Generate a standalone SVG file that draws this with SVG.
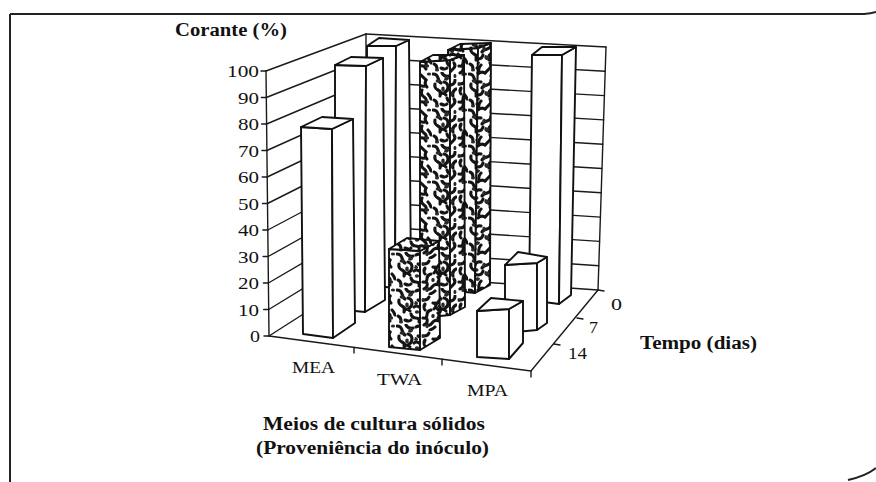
<svg xmlns="http://www.w3.org/2000/svg" width="876" height="482" viewBox="0 0 876 482">
<defs>
<style>
.frame{fill:none;stroke:#222;stroke-width:2}
.grid{fill:none;stroke:#1a1a1a;stroke-width:1.4;stroke-linecap:round}
.bar{fill:#fff;stroke:#111;stroke-width:1.9;stroke-linejoin:round}
.tex{fill:url(#mottle);stroke:#111;stroke-width:1.9;stroke-linejoin:round}
.tex2{fill:url(#mottle2);stroke:#111;stroke-width:1.9;stroke-linejoin:round}
.num{font-family:"Liberation Serif","Times New Roman",serif;font-size:16.5px;fill:#111}
.cat{font-family:"Liberation Serif","Times New Roman",serif;font-size:16.5px;fill:#111}
.ttl{font-family:"Liberation Serif","Times New Roman",serif;font-size:18px;font-weight:bold;fill:#111}
</style>
<g id="blotches">
<rect width="36" height="36" fill="#fff"/>
<g fill="none" stroke="#141414" stroke-width="3.1" stroke-linecap="round" stroke-linejoin="round">
<path d="M1 2 q4 0 5 4 t3 5"/>
<path d="M10 1 q2 4 7 3"/>
<path d="M20 3 q3 -2 6 1 t4 4"/>
<path d="M30 8 q-2 4 1 7"/>
<path d="M3 12 q-1 4 3 6 t2 6"/>
<path d="M12 10 q4 1 4 5 t-3 5"/>
<path d="M22 12 q3 3 7 2"/>
<path d="M26 18 q-2 4 2 7 t1 5"/>
<path d="M8 22 q3 -2 6 1"/>
<path d="M15 26 q1 4 5 4 t3 4"/>
<path d="M2 28 q3 1 3 5"/>
<path d="M24 30 q4 -1 6 3"/>
<path d="M32 22 q2 2 3 5"/>
<path d="M9 32 q4 2 6 0"/>
<path d="M18 19 q2 -2 5 0"/>
</g>
<g fill="#2a2a2a">
<path d="M13 4 q4 -1 4 3 q-2 3 -5 1z"/>
<path d="M19 13 q3 0 3 3 q-2 2 -4 0z"/>
<ellipse cx="6" cy="9" rx="2.4" ry="1.8"/>
<ellipse cx="33" cy="2" rx="2.2" ry="1.6"/>
<ellipse cx="11" cy="17" rx="1.8" ry="2.4"/>
<ellipse cx="31" cy="30" rx="2.2" ry="1.7"/>
<ellipse cx="5" cy="34" rx="2" ry="1.5"/>
<ellipse cx="21" cy="24" rx="2.2" ry="1.8"/>
</g>
</g>
<pattern id="mottle" width="36" height="36" patternUnits="userSpaceOnUse">
<use href="#blotches"/>
</pattern>
<pattern id="mottle2" width="36" height="36" patternUnits="userSpaceOnUse" patternTransform="rotate(90) translate(7 11)">
<use href="#blotches"/>
</pattern>
</defs>
<rect width="876" height="482" fill="#fff"/>

<g id="frame">
<path class="frame" d="M10 14 L864 14 Q871 13.5 876 12"/>
<path class="frame" d="M10 14 L10 482"/>
<path class="frame" d="M848 480 Q866 476 876 468"/>
</g>

<g id="walls">
<g id="left-wall">
<path class="grid" d="M269 336L366 274M268.7 309.5L366 250M268.4 283L366 226M268.1 256.5L366 202M267.8 230L366 178M267.5 203.5L366 154M267.2 177L366 130M266.9 150.5L366 106M266.6 124L366 82M266.3 97.5L366 58M266 71L366 34"/>
<path class="grid" d="M266 71L269 336"/>
<path class="grid" d="M264 336H269M263.7 309.5H268.7M263.4 283H268.4M263.1 256.5H268.1M262.8 230H267.8M262.5 203.5H267.5M262.2 177H267.2M261.9 150.5H266.9M261.6 124H266.6M261.3 97.5H266.3M261 71H266"/>
</g>
<g id="back-wall">
<path class="grid" d="M366 274L598 290M366 250L598.8 265.7M366 226L599.6 241.4M366 202L600.4 217.1M366 178L601.2 192.8M366 154L602 168.5M366 130L602.8 144.2M366 106L603.6 119.9M366 82L604.4 95.6M366 58L605.2 71.3M366 34L606 47"/>
<path class="grid" d="M366 34L366 274M606 47L598 290"/>
</g>
<g id="floor">
<path class="grid" d="M269 336L531 371L598 290"/>
<path class="grid" d="M354 347.4V353M442 359.1V365M531 371V377M577 318l6 1M554 344l6 1M598 290l6 1"/>
</g>
</g>

<g id="bars">
<g id="bar-MEA-0">
<polygon class="bar" points="367,46 396,46 395,288 367,285"/>
<polygon class="bar" points="396,46 409,40 411,281 395,288"/>
<polygon class="bar" points="367,46 396,46 409,40 379,38"/>
</g>
<g id="bar-TWA-0">
<polygon class="tex" points="448,50 478,48 475,293 447,290"/>
<polygon class="tex2" points="478,48 491,43 490,285 475,293"/>
<polygon class="tex" points="448,50 478,48 491,43 460,44"/>
</g>
<g id="bar-MPA-0">
<polygon class="bar" points="532,55 562,55 559,304 529,300"/>
<polygon class="bar" points="562,55 576,47 571,295 559,304"/>
<polygon class="bar" points="532,55 562,55 576,47 542,47"/>
</g>
<g id="bar-MEA-7">
<polygon class="bar" points="335,65 366,66 365,312 335,309"/>
<polygon class="bar" points="366,66 383,58 385,300 365,312"/>
<polygon class="bar" points="335,65 366,66 383,58 351,57"/>
</g>
<g id="bar-TWA-7">
<polygon class="tex" points="420,62 450,60 450,315 420,318"/>
<polygon class="tex2" points="450,60 464,55 465,307 450,315"/>
<polygon class="tex" points="420,62 450,60 464,55 433,55"/>
</g>
<g id="bar-MPA-7">
<polygon class="bar" points="505,265 537,263 537,330 505,333"/>
<polygon class="bar" points="537,263 547,257 547,323 537,330"/>
<polygon class="bar" points="505,265 537,263 547,257 518,252"/>
</g>
<g id="bar-MEA-14">
<polygon class="bar" points="301,127 332,129 333,338 303,334"/>
<polygon class="bar" points="332,129 353,119 355,323 333,338"/>
<polygon class="bar" points="301,127 332,129 353,119 322,117"/>
</g>
<g id="bar-TWA-14">
<polygon class="tex" points="389,249 420,251 420,350 389,347"/>
<polygon class="tex2" points="420,251 439,241 440,338 420,350"/>
<polygon class="tex" points="389,249 420,251 439,241 407,238"/>
</g>
<g id="bar-MPA-14">
<polygon class="bar" points="477,311 509,309 509,359 477,357"/>
<polygon class="bar" points="509,309 523,301 523,343 509,359"/>
<polygon class="bar" points="477,311 509,309 523,301 491,298"/>
</g>
</g>

<g id="labels">
<text class="ttl" x="175" y="36" textLength="112" lengthAdjust="spacingAndGlyphs">Corante (%)</text>
<text class="num" x="227" y="77" textLength="32" lengthAdjust="spacingAndGlyphs">100</text>
<text class="num" x="238" y="103.5" textLength="21" lengthAdjust="spacingAndGlyphs">90</text>
<text class="num" x="238" y="130" textLength="21" lengthAdjust="spacingAndGlyphs">80</text>
<text class="num" x="238" y="156.5" textLength="21" lengthAdjust="spacingAndGlyphs">70</text>
<text class="num" x="238" y="183" textLength="21" lengthAdjust="spacingAndGlyphs">60</text>
<text class="num" x="238" y="209.5" textLength="21" lengthAdjust="spacingAndGlyphs">50</text>
<text class="num" x="238" y="236" textLength="21" lengthAdjust="spacingAndGlyphs">40</text>
<text class="num" x="238" y="262.5" textLength="21" lengthAdjust="spacingAndGlyphs">30</text>
<text class="num" x="238" y="289" textLength="21" lengthAdjust="spacingAndGlyphs">20</text>
<text class="num" x="238" y="315.5" textLength="21" lengthAdjust="spacingAndGlyphs">10</text>
<text class="num" x="250" y="342" textLength="10" lengthAdjust="spacingAndGlyphs">0</text>
<text class="cat" x="292" y="373" textLength="43" lengthAdjust="spacingAndGlyphs">MEA</text>
<text class="cat" x="377" y="385" textLength="45" lengthAdjust="spacingAndGlyphs">TWA</text>
<text class="cat" x="467" y="396" textLength="41" lengthAdjust="spacingAndGlyphs">MPA</text>
<text class="num" x="611" y="310" textLength="11" lengthAdjust="spacingAndGlyphs">0</text>
<text class="num" x="589" y="333" textLength="9" lengthAdjust="spacingAndGlyphs">7</text>
<text class="num" x="568" y="359" textLength="19" lengthAdjust="spacingAndGlyphs">14</text>
<text class="ttl" x="640" y="349" textLength="117" lengthAdjust="spacingAndGlyphs">Tempo (dias)</text>
<text class="ttl" x="263" y="430" textLength="222" lengthAdjust="spacingAndGlyphs">Meios de cultura sólidos</text>
<text class="ttl" x="256" y="454" textLength="233" lengthAdjust="spacingAndGlyphs">(Proveniência do inóculo)</text>
</g>
</svg>
